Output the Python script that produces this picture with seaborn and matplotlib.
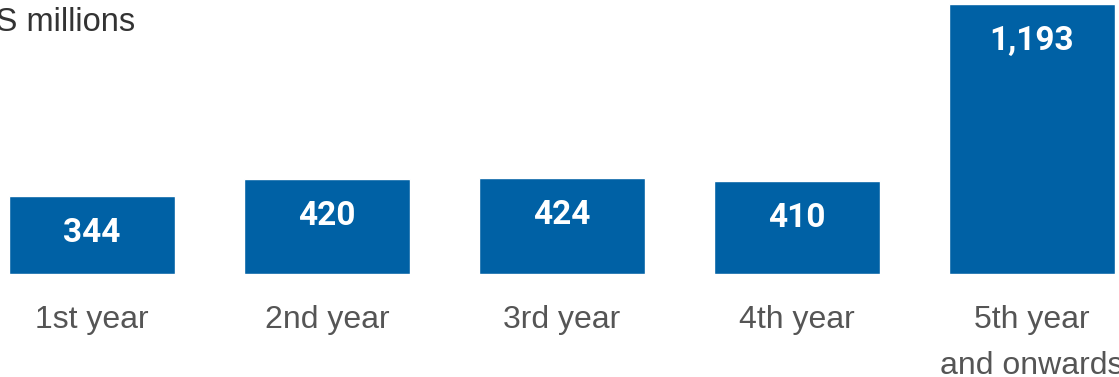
import matplotlib
matplotlib.use("Agg")
import matplotlib.pyplot as plt
import seaborn as sns
import pandas as pd

categories = ["1st year", "2nd year", "3rd year", "4th year", "5th year\nand onwards"]
values = [344, 420, 424, 410, 1193]
value_labels = ["344", "420", "424", "410", "1,193"]
unit_label = "$US millions"

sns.set_theme(style="white")
plt.rcParams["font.family"] = ["Liberation Sans", "DejaVu Sans"]

W, H = 1119, 377
fig = plt.figure(figsize=(W / 100, H / 100), dpi=100)
bottom_px = 274
top_px = 4
ax = fig.add_axes([0, (H - bottom_px) / H, 1, (bottom_px) / H])

df = pd.DataFrame({"cat": categories, "val": values})
sns.barplot(data=df, x="cat", y="val", color="#0061A5", saturation=1,
            width=166 / 235, ax=ax)

center0 = 92
ax.set_xlim(-center0 / 235, (W - center0) / 235)
ymax = max(values) * bottom_px / (bottom_px - top_px)
ax.set_ylim(0, ymax)
ax.axis("off")

for i, (v, lab) in enumerate(zip(values, value_labels)):
    ax.annotate(lab, xy=(i, v), xytext=(0, -46 * 0.72), textcoords="offset points",
                ha="center", va="baseline", color="white", fontsize=24,
                fontweight="bold", family=["Roboto", "DejaVu Sans"],
                annotation_clip=False)

for i, c in enumerate(categories):
    for j, line in enumerate(c.split("\n")):
        ax.annotate(line, xy=(i, 0), xytext=(0, -(54 + 46 * j) * 0.72),
                    textcoords="offset points", ha="center", va="baseline",
                    color="#555555", fontsize=23, annotation_clip=False)

fig.text(135 / W, 1 - 31 / H, unit_label, ha="right", va="baseline",
         color="#333333", fontsize=23.5)

fig.savefig("out.png", dpi=100)
